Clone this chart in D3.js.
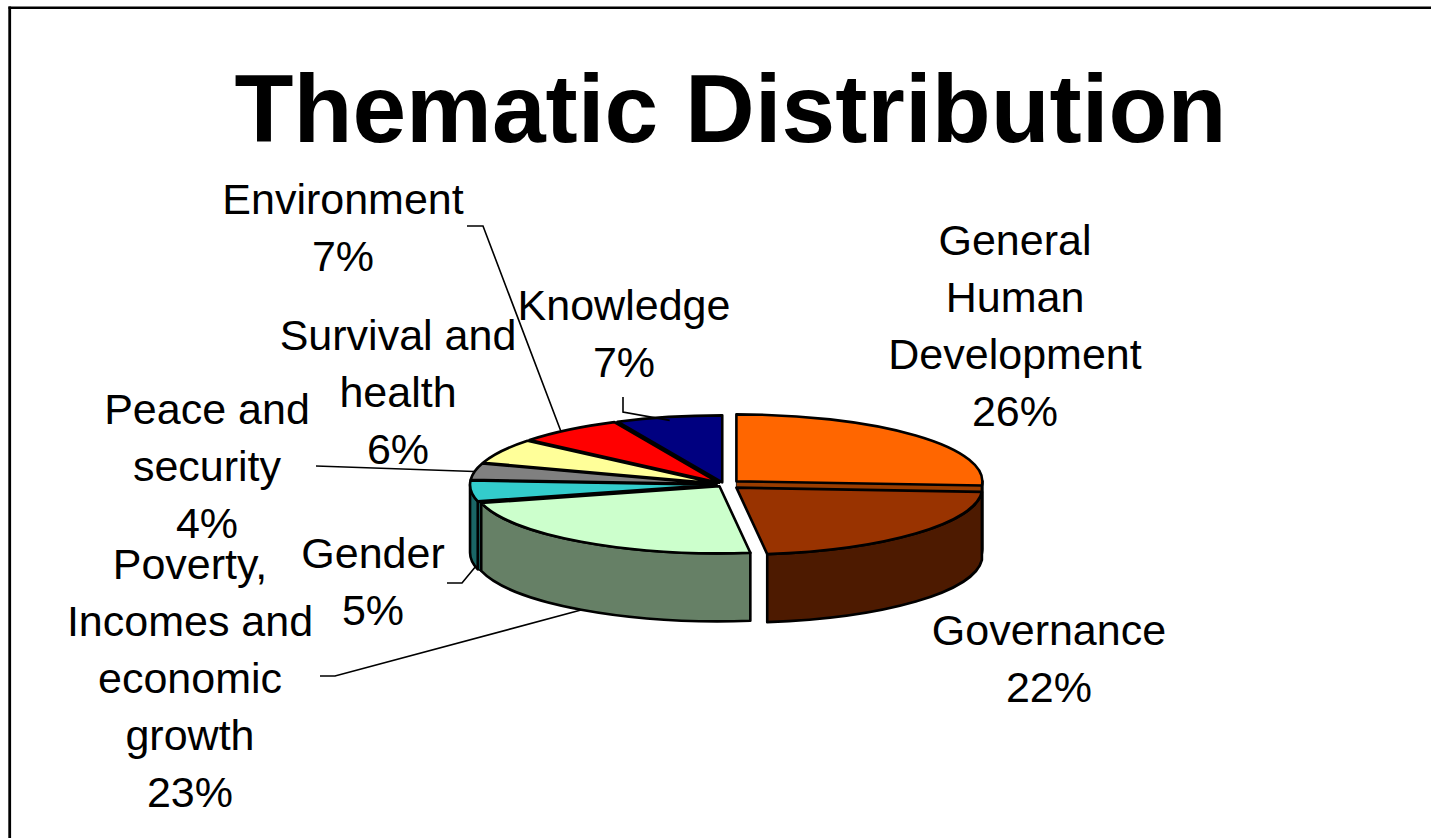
<!DOCTYPE html>
<html><head><meta charset="utf-8">
<script src="https://cdn.jsdelivr.net/npm/d3@7"></script>
<style>html,body{margin:0;padding:0;background:#fff;overflow:hidden}</style>
</head><body>
<svg id="chart" width="1431" height="838"></svg>
<script>
// ---- data ----
const categories = ["General Human Development","Governance","Poverty, Incomes and economic growth","Gender","Peace and security","Survival and health","Environment","Knowledge"];
const values = [26,22,23,5,4,6,7,7];
const labelLines = [["General","Human","Development"],["Governance"],["Poverty,","Incomes and","economic","growth"],["Gender"],["Peace and","security"],["Survival and","health"],["Environment"],["Knowledge"]];
const titleText = "Thematic Distribution";

// ---- styles / layout ----
const topColors  = ["#FF6600","#993300","#CCFFCC","#33CCCC","#808080","#FFFF99","#FF0000","#000080"];
const sideColors = ["#9A3D00","#4D1A00","#668066","#1A6666","#404040","#80804D","#800000","#000040"];
const explode = [17,17,8,8,8,8,8,8];
const labelPos = [[1015,255],[1049,645],[190,579],[373,568],[207,424],[398,350],[343,214],[624,320]];
const leaders = [
  {i:6, pts:[[467,226],[483,226]], angle:320, r:1, z:0},
  {i:7, pts:[[623,397],[623,412]], angle:347, r:0.95, z:0},
  {i:4, pts:[[316,466]], angle:280.8, r:1, z:0},
  {i:3, pts:[[447,583],[462,583]], angle:258, r:1, z:1},
  {i:2, pts:[[320,676],[335,676]], angle:214, r:1, z:1}
];

const W = 1431, H = 838;
const cx = 724, cy = 484.5, rx = 246, ry = 67, depth = 68;
const svg = d3.select("#chart");

// frame
svg.append("line").attr("x1",8.5).attr("x2",W).attr("y1",7.7).attr("y2",7.7).attr("stroke","#000").attr("stroke-width",2.4);
svg.append("line").attr("x1",9.7).attr("x2",9.7).attr("y1",6.5).attr("y2",H).attr("stroke","#000").attr("stroke-width",2.8);

// title
svg.append("text").attr("x",730.5).attr("y",141.5).attr("text-anchor","middle")
  .attr("font-family","'Liberation Sans', Arial, sans-serif").attr("font-weight","bold")
  .attr("font-size",96.5).attr("fill","#000").text(titleText);

const data = categories.map((c,i)=>({name:c, value:values[i], idx:i}));
const arcs = d3.pie().sort(null).value(d=>d.value).startAngle(0).endAngle(2*Math.PI)(data);

arcs.forEach((a,i)=>{
  a.mid = (a.startAngle + a.endAngle)/2;
  const off = explode[i];
  a.ox = off*Math.sin(a.mid);
  a.oy = -off*Math.cos(a.mid)*ry/rx;
});
function P(a, ang, z=0, r=1){ return [cx + a.ox + rx*r*Math.sin(ang), cy + a.oy - ry*r*Math.cos(ang) + z]; }
function V(a, z=0){ return [cx + a.ox, cy + a.oy + z]; }
const f = p => p[0].toFixed(2)+","+p[1].toFixed(2);

const gStrips = svg.append("g"), gWalls = svg.append("g"), gTops = svg.append("g");
const SW = 2.6;

// radial walls (only the visible strips)
const n = arcs.length;
arcs.forEach((a,i)=>{
  const walls = [];
  if (-Math.sin(a.startAngle) > 0.2) walls.push({ang:a.startAngle, nb:arcs[(i-1+n)%n]});
  if (Math.sin(a.endAngle) > 0.2) walls.push({ang:a.endAngle, nb:arcs[(i+1)%n]});
  walls.forEach(w=>{
    const pts = [V(a), P(a,w.ang), P(w.nb,w.ang), V(w.nb)];
    gStrips.append("path").attr("d","M"+pts.map(f).join("L")+"Z")
      .attr("fill",sideColors[i]).attr("stroke","#000").attr("stroke-width",0.8);
    if (Math.cos(w.ang) < 0) {
      const q = [P(a,w.ang), P(a,w.ang,depth), P(w.nb,w.ang,depth), P(w.nb,w.ang)];
      gStrips.append("path").attr("d","M"+q.map(f).join("L")+"Z")
        .attr("fill",sideColors[i]).attr("stroke","#000").attr("stroke-width",1.5);
    }
  });
});

// outer walls (front half)
arcs.forEach((a,i)=>{
  const s = Math.max(a.startAngle, Math.PI/2), e = Math.min(a.endAngle, 1.5*Math.PI);
  if (e <= s) return;
  const lg = (e - s) > Math.PI ? 1 : 0;
  const d = "M"+f(P(a,s))+"A"+rx+","+ry+" 0 "+lg+" 1 "+f(P(a,e))+
            "L"+f(P(a,e,depth))+"A"+rx+","+ry+" 0 "+lg+" 0 "+f(P(a,s,depth))+"Z";
  gWalls.append("path").attr("d",d).attr("fill",sideColors[i])
    .attr("stroke","#000").attr("stroke-width",SW).attr("stroke-linejoin","round");
});

// top faces
arcs.forEach((a,i)=>{
  const lg = (a.endAngle - a.startAngle) > Math.PI ? 1 : 0;
  const d = "M"+f(V(a))+"L"+f(P(a,a.startAngle))+"A"+rx+","+ry+" 0 "+lg+" 1 "+f(P(a,a.endAngle))+"Z";
  gTops.append("path").attr("d",d).attr("fill",topColors[i])
    .attr("stroke","#000").attr("stroke-width",SW).attr("stroke-linejoin","round");
});

// leader lines
leaders.forEach(l=>{
  const a = arcs[l.i];
  const end = P(a, l.angle*Math.PI/180, l.z ? depth : 0, l.r);
  const pts = l.pts.concat([end]);
  svg.append("path").attr("d", d3.line()(pts)).attr("fill","none")
    .attr("stroke","#000").attr("stroke-width",1.6);
});

// labels
arcs.forEach((a,i)=>{
  const lines = labelLines[i].concat([values[i]+"%"]);
  const t = svg.append("text").attr("text-anchor","middle")
    .attr("font-family","'Liberation Sans', Arial, sans-serif")
    .attr("font-size",43).attr("fill","#000");
  lines.forEach((ln,k)=>{
    t.append("tspan").attr("x",labelPos[i][0]).attr("y",labelPos[i][1] + k*57).text(ln);
  });
});
</script>
</body></html>
